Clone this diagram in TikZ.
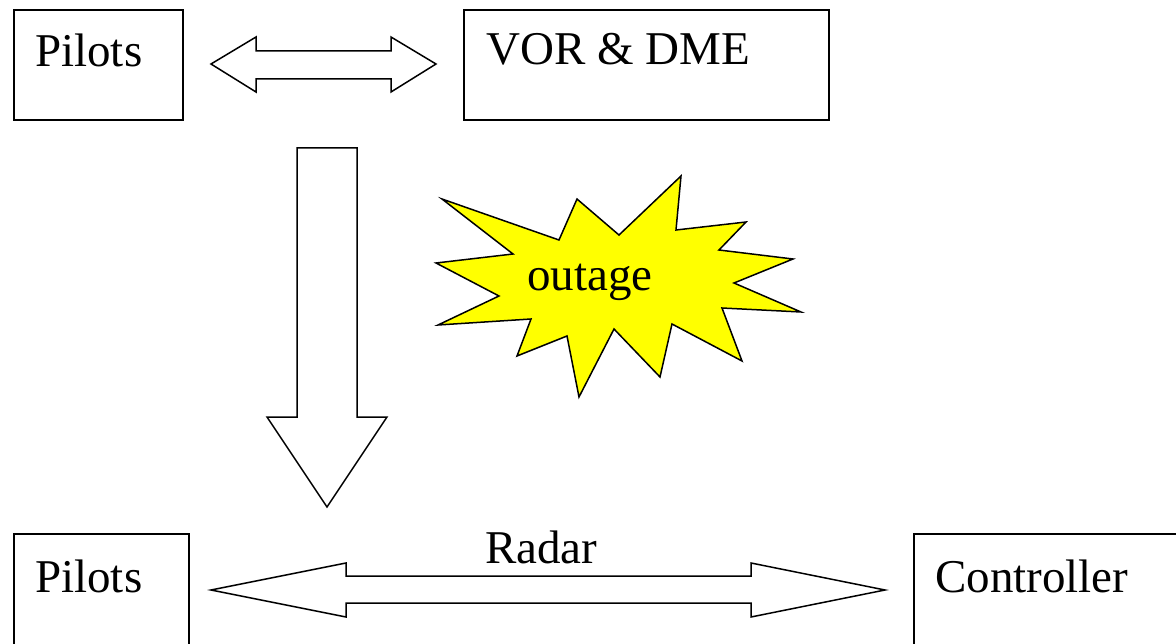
\documentclass[tikz,border=0pt]{standalone}
\usepackage{fontspec}
\setmainfont{Liberation Serif}
\definecolor{burstyellow}{RGB}{255,255,0}
\begin{document}
\begin{tikzpicture}[x=1pt,y=-1pt,line join=miter]
\tikzset{
  box/.style={draw, line width=1.6pt, inner sep=0pt},
  lbl/.style={anchor=base west, inner sep=0pt, font=\fontsize{47}{56}\selectfont},
  block/.style={draw, fill=white, line width=1.5pt},
  burst/.style={draw, fill=burstyellow, line width=1.5pt}
}
\useasboundingbox (0,0) rectangle (1176,644);
\clip (0,0) rectangle (1176,644);
% boxes
\node[box, minimum width=169pt, minimum height=110pt] (pilotsTop) at (98.5,65) {};
\node[box, minimum width=365pt, minimum height=110pt] (vor) at (646.5,65) {};
\node[box, minimum width=175pt, minimum height=170pt] (pilotsBot) at (101.5,619) {};
\node[box, minimum width=340pt, minimum height=170pt] (ctrl) at (1084,619) {};
% texts
\node[lbl] (tPilotsTop) at (35,67) {Pilots};
\node[lbl] (tVor) at (486,65) {VOR \& DME};
\node[lbl] (tPilotsBot) at (35,592) {Pilots};
\node[lbl] (tCtrl) at (935,592) {Controller};
\node[lbl] (tRadar) at (485,563) {Radar};
% top double arrow
\draw[block] (211,64) -- (256,37) -- (256,51) -- (391,51) -- (391,37) -- (436,64)
  -- (391,92) -- (391,79) -- (256,79) -- (256,92) -- cycle;
% down arrow
\draw[block] (297,148) -- (357,148) -- (357,417) -- (387,417) -- (327,507)
  -- (267,417) -- (297,417) -- cycle;
% bottom double arrow
\draw[block] (211,590) -- (346,563) -- (346,576) -- (751,576) -- (751,563) -- (885,590)
  -- (751,617) -- (751,603) -- (346,603) -- (346,617) -- cycle;
% starburst
\draw[burst] (442,199) -- (559,240) -- (577,199) -- (619,235) -- (681,176) -- (676,230)
  -- (746,222) -- (719,250) -- (793,259) -- (734,283) -- (801,312) -- (722,308)
  -- (742,361) -- (672,324) -- (660,377) -- (614,329) -- (579,397) -- (567,336)
  -- (517,356) -- (531,319) -- (438,325) -- (499,296) -- (436,263) -- (513,254) -- cycle;
\node[lbl] (tOutage) at (527,291) {outage};
\end{tikzpicture}
\end{document}
